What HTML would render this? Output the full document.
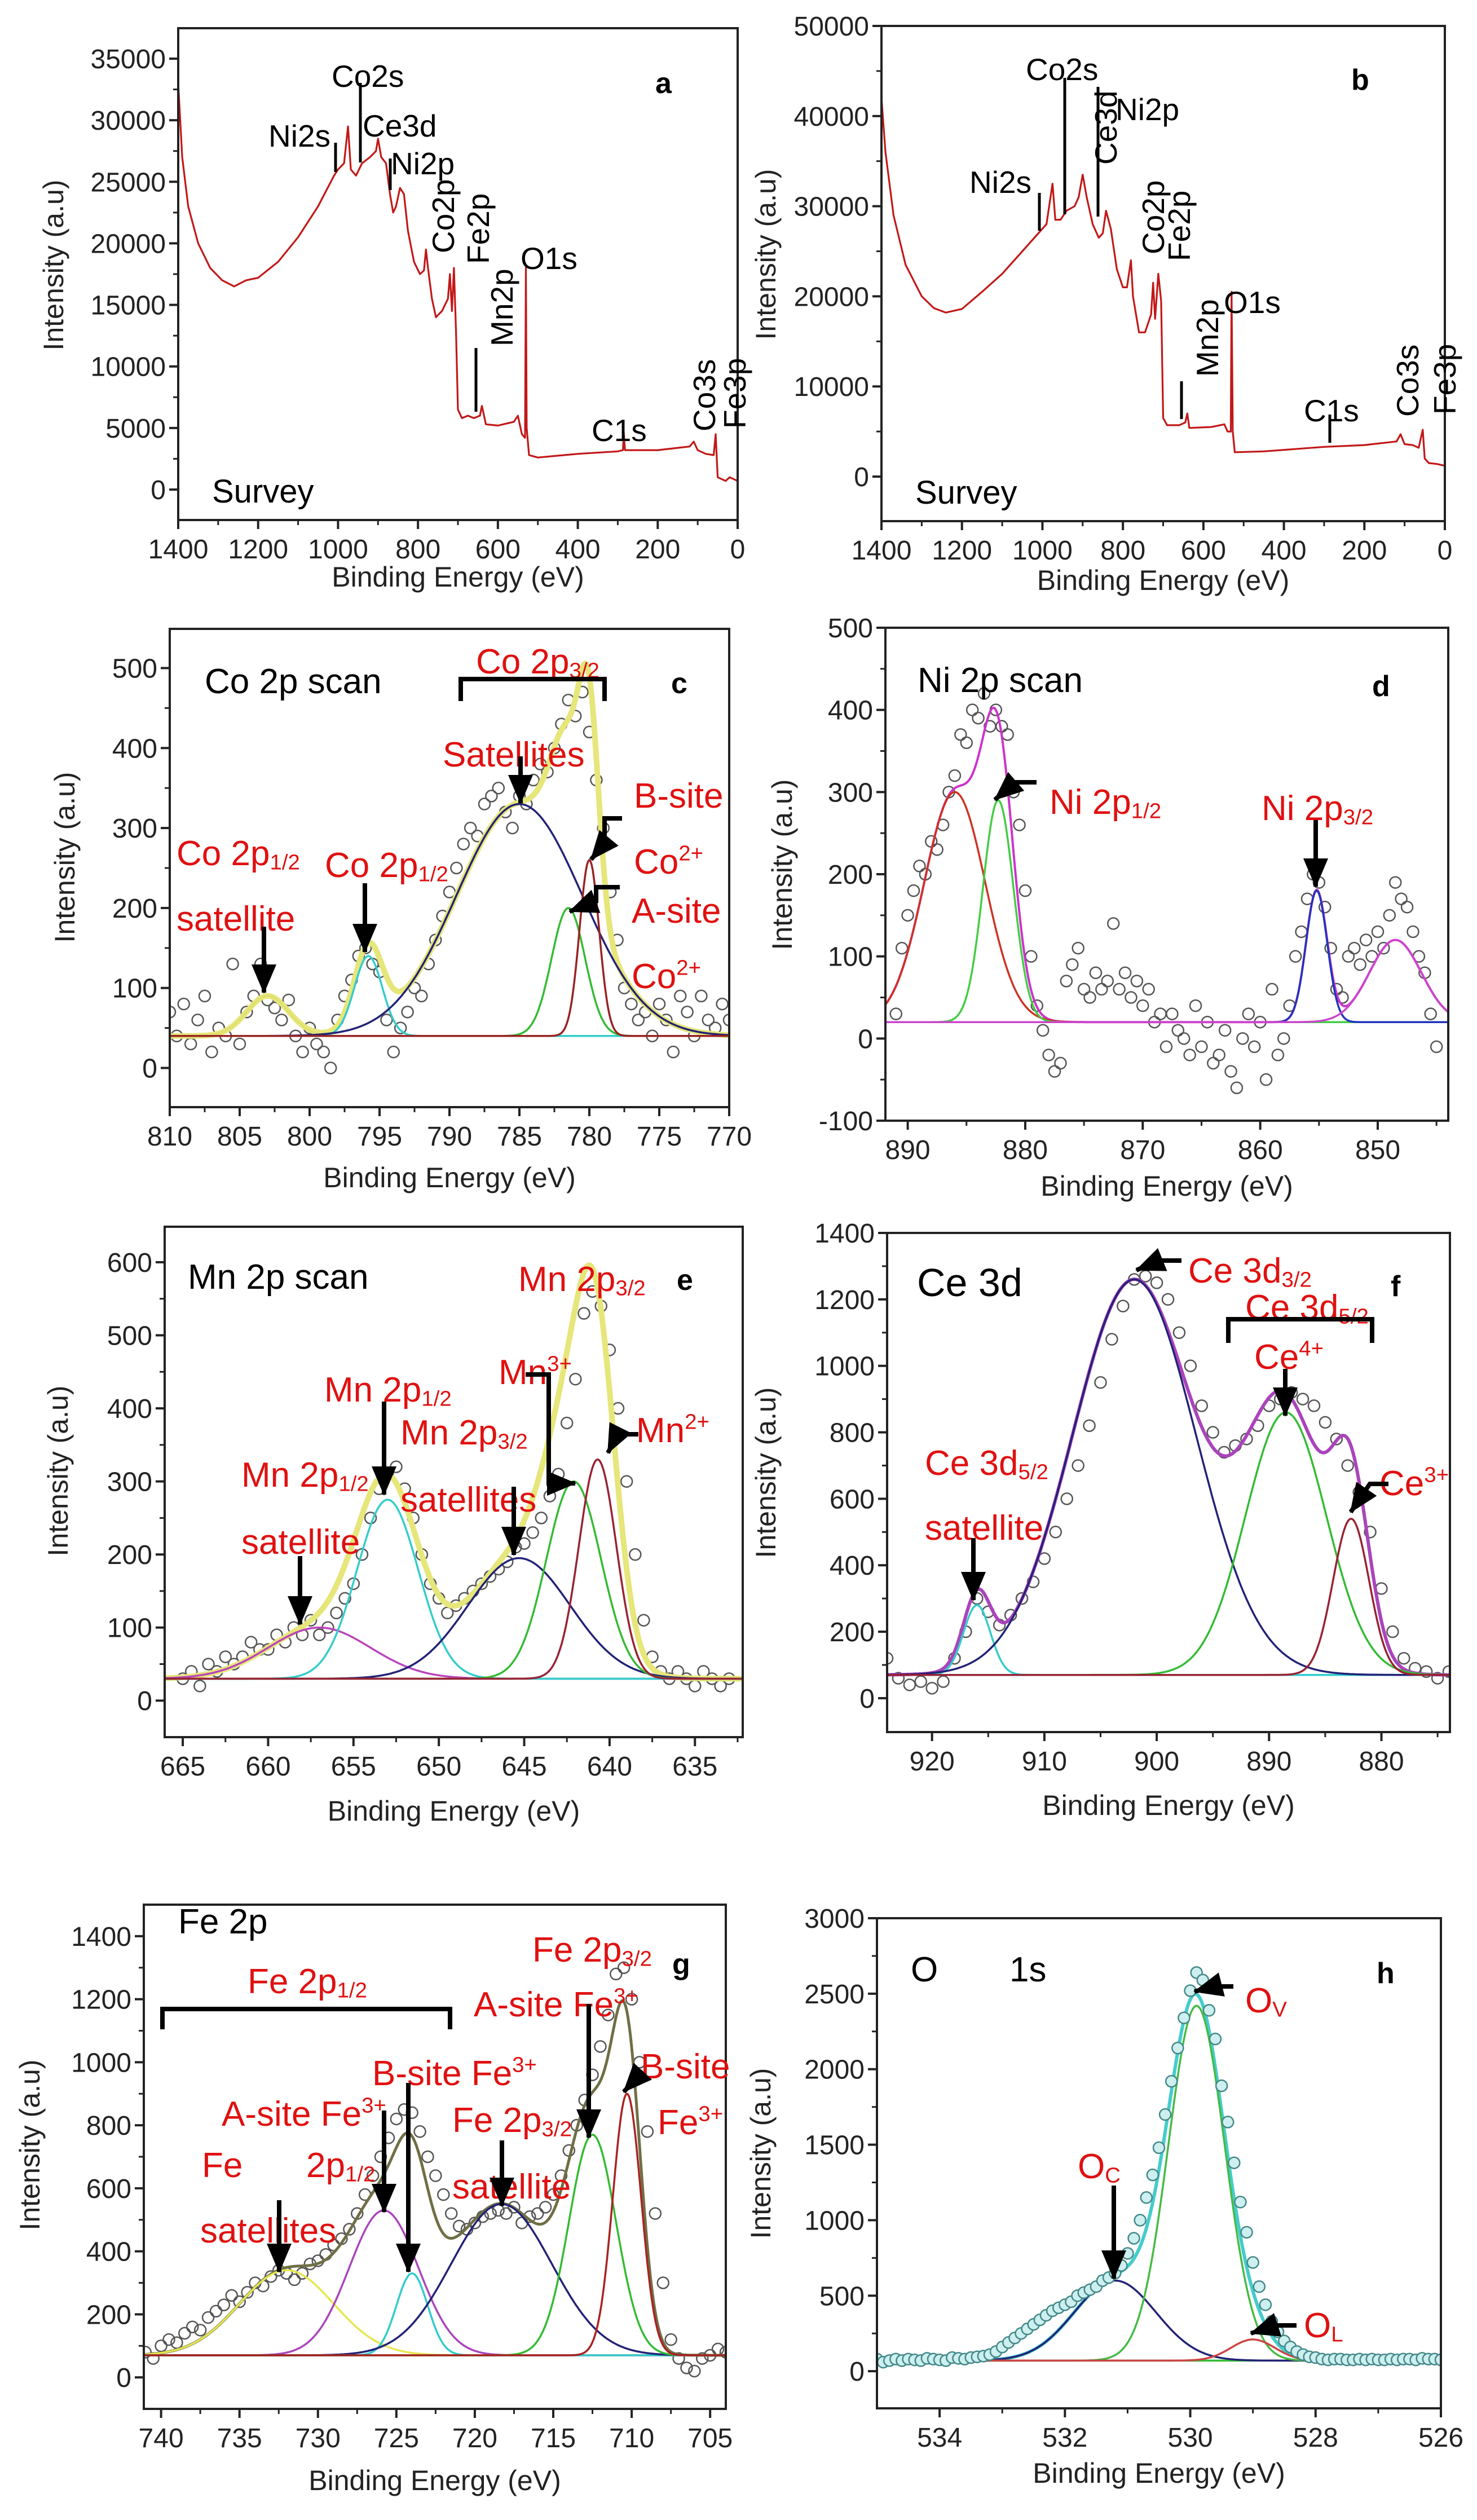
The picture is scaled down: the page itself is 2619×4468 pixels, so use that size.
<!DOCTYPE html>
<html><head><meta charset="utf-8"><title>XPS spectra</title>
<style>
html,body{margin:0;padding:0;background:#fff;}
svg{display:block;font-family:"Liberation Sans",Arial,sans-serif;}
</style></head>
<body>
<svg id="fig" xmlns="http://www.w3.org/2000/svg" width="2619" height="4468" viewBox="0 0 2619 4468">
<defs>
<marker id="ah" markerUnits="userSpaceOnUse" markerWidth="52" markerHeight="44" refX="50" refY="22" orient="auto"><path d="M0,0 L52,22 L0,44 z" fill="#000"/></marker>
</defs>
<rect width="2619" height="4468" fill="#fff"/>
</svg>
<script>
// ---------- DATA ----------
// Panel a survey
const aBE=[1400,1390,1375,1350,1320,1290,1260,1230,1200,1150,1100,1050,1010,1000,985,975,968,955,940,920,905,900,892,880,870,862,855,845,835,825,810,795,785,780,775,765,755,740,725,720,715,710,705,700,690,675,660,645,640,630,600,560,550,540,532,530,528,522,500,400,300,287,285,282,200,120,110,100,80,60,55,50,30,20,0];
const aInt=[33000,27000,23000,20000,18000,17000,16500,17000,17200,18500,20500,23000,25500,26000,26500,29500,26000,25500,26500,27000,27500,28500,27000,26500,24000,22500,23000,24500,24000,21000,18500,17500,17800,19500,18000,15500,14000,14500,15500,17500,14500,18000,13000,6500,5800,6000,5800,6000,6800,5300,5200,5500,6000,4500,4200,18000,5000,2800,2600,2900,3100,3200,4600,3200,3200,3500,3900,3200,2900,2800,4500,1000,700,1000,700];
const aYTicks=[0,5000,10000,15000,20000,25000,30000,35000];
const surveyXTicks=[1400,1200,1000,800,600,400,200,0];
// Panel b survey
const bBE=[1400,1390,1370,1340,1300,1270,1240,1200,1150,1100,1050,1010,990,975,968,955,940,920,910,900,890,875,860,850,842,830,815,800,790,780,775,760,745,730,725,720,712,705,700,690,660,645,640,635,580,548,540,532,530,527,522,450,300,200,120,110,100,80,65,55,50,40,20,0];
const bInt=[42000,36000,29000,23500,20000,18700,18200,18600,20500,22500,25000,27000,28000,32500,28500,28500,29500,30000,31000,33500,31000,28000,26500,27000,29500,27500,23000,21000,21000,24000,20000,16000,16000,18000,21500,17500,22500,19500,6500,5700,5700,6000,7000,5400,5500,5800,5000,5000,20500,5000,2700,2800,3300,3500,3900,4700,3600,3500,3200,5200,2000,1500,1400,1200];
const bYTicks=[0,10000,20000,30000,40000,50000];
// Panel c Co 2p
const cE=[810,809.5,809,808.5,808,807.5,807,806.5,806,805.5,805,804.5,804,803.5,803,802.5,802,801.5,801,800.5,800,799.5,799,798.5,798,797.5,797,796.5,796,795.5,795,794.5,794,793.5,793,792.5,792,791.5,791,790.5,790,789.5,789,788.5,788,787.5,787,786.5,786,785.5,785,784.5,784,783.5,783,782.5,782,781.5,781,780.5,780,779.5,779,778.5,778,777.5,777,776.5,776,775.5,775,774.5,774,773.5,773,772.5,772,771.5,771,770.5,770];
const cI=[70,40,80,30,60,90,20,50,40,130,30,70,90,130,85,75,60,85,40,20,50,30,20,0,60,90,110,140,150,130,120,60,20,50,70,100,90,130,160,190,220,250,280,300,290,330,340,350,320,300,340,330,360,380,370,400,430,460,440,470,420,360,300,220,160,100,80,60,70,40,80,60,20,90,70,40,90,60,50,80,60];
const cCenters=[803,795.8,785,781.5,780];
const cAmps=[50,100,290,160,220];
const cSigmas=[1.5,1.0,4.5,1.2,0.7];
const cBase=[40];
const cYTicks=[0,100,200,300,400,500];
const cXTicks=[810,805,800,795,790,785,780,775,770];
// Panel d Ni 2p
const dE=[891,890.5,890,889.5,889,888.5,888,887.5,887,886.5,886,885.5,885,884.5,884,883.5,883,882.5,882,881.5,881,880.5,880,879.5,879,878.5,878,877.5,877,876.5,876,875.5,875,874.5,874,873.5,873,872.5,872,871.5,871,870.5,870,869.5,869,868.5,868,867.5,867,866.5,866,865.5,865,864.5,864,863.5,863,862.5,862,861.5,861,860.5,860,859.5,859,858.5,858,857.5,857,856.5,856,855.5,855,854.5,854,853.5,853,852.5,852,851.5,851,850.5,850,849.5,849,848.5,848,847.5,847,846.5,846,845.5,845];
const dI=[30,110,150,180,210,200,240,230,260,300,320,370,360,400,390,420,380,400,380,370,300,260,180,100,40,10,-20,-40,-30,70,90,110,60,50,80,60,70,140,60,80,50,70,40,60,20,30,-10,30,10,0,-20,40,-10,20,-30,-20,10,-40,-60,0,30,-10,20,-50,60,-20,0,40,100,130,170,200,190,160,110,60,50,100,110,90,120,100,130,110,150,190,170,160,130,100,80,30,-10];
const dCenters=[886,882.3,855.2,848.5];
const dAmps=[280,270,160,100];
const dSigmas=[2.6,1.3,0.9,2.2];
const dBase=[20];
const dYTicks=[-100,0,100,200,300,400,500];
const dXTicks=[890,880,870,860,850];
// Panel e Mn 2p
const eE=[665,664.5,664,663.5,663,662.5,662,661.5,661,660.5,660,659.5,659,658.5,658,657.5,657,656.5,656,655.5,655,654.5,654,653.5,653,652.5,652,651.5,651,650.5,650,649.5,649,648.5,648,647.5,647,646.5,646,645.5,645,644.5,644,643.5,643,642.5,642,641.5,641,640.5,640,639.5,639,638.5,638,637.5,637,636.5,636,635.5,635,634.5,634,633.5,633];
const eI=[30,40,20,50,40,60,50,60,80,70,70,90,80,100,90,110,90,100,120,140,160,200,250,290,310,320,290,250,200,160,140,120,130,140,150,160,170,180,190,210,215,230,250,280,310,380,440,530,560,540,480,400,300,200,110,60,40,30,40,30,20,40,30,20,30];
const eCenters=[657,653,645.3,642.1,640.7];
const eAmps=[70,245,165,270,300];
const eSigmas=[3.0,1.8,3.0,1.6,1.1];
const eBase=[30];
const eYTicks=[0,100,200,300,400,500,600];
const eXTicks=[665,660,655,650,645,640,635];
// Panel f Ce 3d
const fE=[924,923,922,921,920,919,918,917,916,915,914,913,912,911,910,909,908,907,906,905,904,903,902,901,900,899,898,897,896,895,894,893,892,891,890,889,888,887,886,885,884,883,882,881,880,879,878,877,876,875,874];
const fI=[120,60,40,50,30,50,120,200,300,260,220,250,300,350,420,500,600,700,820,950,1080,1180,1260,1270,1250,1200,1100,1000,880,800,740,760,780,820,880,900,920,900,880,830,780,700,620,500,330,200,120,90,80,60,80];
const fCenters=[916,902,888.5,882.7];
const fAmps=[210,1190,790,470];
const fSigmas=[1.2,5.5,3.6,1.6];
const fBase=[70];
const fYTicks=[0,200,400,600,800,1000,1200,1400];
const fXTicks=[920,910,900,890,880];
// Panel g Fe 2p
const gE=[741,740.5,740,739.5,739,738.5,738,737.5,737,736.5,736,735.5,735,734.5,734,733.5,733,732.5,732,731.5,731,730.5,730,729.5,729,728.5,728,727.5,727,726.5,726,725.5,725,724.5,724,723.5,723,722.5,722,721.5,721,720.5,720,719.5,719,718.5,718,717.5,717,716.5,716,715.5,715,714.5,714,713.5,713,712.5,712,711.5,711,710.5,710,709.5,709,708.5,708,707.5,707,706.5,706,705.5,705,704.5,704];
const gI=[80,60,100,120,110,140,160,150,190,210,230,260,240,270,300,290,320,340,330,310,330,360,370,390,420,440,470,520,580,640,700,760,820,850,840,780,700,640,580,520,480,470,490,510,520,530,520,540,490,510,520,540,580,640,720,800,880,960,1050,1150,1280,1300,1200,1000,780,520,300,120,60,30,20,60,70,90,80];
const gCenters=[732,725.8,724,718.3,712.5,710.3];
const gAmps=[270,460,260,480,700,830];
const gSigmas=[3.0,2.2,1.0,3.2,1.5,0.9];
const gBase=[70];
const gYTicks=[0,200,400,600,800,1000,1200,1400];
const gXTicks=[740,735,730,725,720,715,710,705];
// Panel h O 1s
const hE=[535.0,534.9,534.8,534.7,534.6,534.5,534.4,534.3,534.2,534.1,534.0,533.9,533.8,533.7,533.6,533.5,533.4,533.3,533.2,533.1,533.0,532.9,532.8,532.7,532.6,532.5,532.4,532.3,532.2,532.1,532.0,531.9,531.8,531.7,531.6,531.5,531.4,531.3,531.2,531.1,531.0,530.9,530.8,530.7,530.6,530.5,530.4,530.3,530.2,530.1,530.0,529.9,529.8,529.7,529.6,529.5,529.4,529.3,529.2,529.1,529.0,528.9,528.8,528.7,528.6,528.5,528.4,528.3,528.2,528.1,528.0,527.9,527.8,527.7,527.6,527.5,527.4,527.3,527.2,527.1,527.0,526.9,526.8,526.7,526.6,526.5,526.4,526.3,526.2,526.1,526.0];
const hI=[80,60,70,80,70,80,75,70,85,80,75,70,90,85,80,90,95,100,110,130,160,190,220,250,280,310,340,370,400,420,440,460,500,520,540,560,600,620,650,700,780,880,1000,1150,1300,1480,1700,1920,2140,2340,2520,2640,2590,2390,2200,1890,1650,1380,1120,920,720,560,440,330,260,200,160,130,110,95,90,80,75,80,80,75,75,80,75,80,75,75,80,75,80,80,75,85,80,80,75];
const hCenters=[531.2,529.9,529.0];
const hAmps=[530,2350,140];
const hSigmas=[0.65,0.45,0.35];
const hBase=[70];
const hYTicks=[0,500,1000,1500,2000,2500,3000];
const hXTicks=[534,532,530,528,526];

// ---------- DRAWING ----------
const svg=document.getElementById('fig');
const NS='http://www.w3.org/2000/svg';
function mk(tag,attrs,parent){const e=document.createElementNS(NS,tag);for(const k in attrs)e.setAttribute(k,attrs[k]);(parent||svg).appendChild(e);return e;}
function gauss(x,c,a,s){return a*Math.exp(-(x-c)*(x-c)/(2*s*s));}

function makePanel(p){
  const g=mk('g',{});
  
  
  p.g=g;
  p.sx=v=>p.L+(p.x0-v)/(p.x0-p.x1)*(p.R-p.L);
  p.sy=v=>p.B-(v-p.y0)/(p.y1-p.y0)*(p.B-p.T);
  const cp=mk('clipPath',{id:'clip-'+p.id},g);
  mk('rect',{x:p.L,y:p.T,width:p.R-p.L,height:p.B-p.T},cp);
  p.plot=mk('g',{'clip-path':'url(#clip-'+p.id+')'},g);
  
  
  return p;
}
function drawAxes(p,yt,ymin,xt,xmin){
  const g=p.g;
  const fr=mk('rect',{x:p.L,y:p.T,width:p.R-p.L,height:p.B-p.T,fill:'none',stroke:'#222','stroke-width':4},g);
  
  
  const ya=mk('g',{},g);
  
  
  yt.forEach(v=>{const y=p.sy(v);
    mk('line',{x1:p.L-16,x2:p.L,y1:y,y2:y,stroke:'#222','stroke-width':4},ya);
    const t=mk('text',{x:p.L-22,y:y+17,'font-size':48,'text-anchor':'end',fill:'#222'},ya);
    t.textContent=v;
    
    
    const m=v+ymin; if(m<p.y1){const ym=p.sy(m);mk('line',{x1:p.L-9,x2:p.L,y1:ym,y2:ym,stroke:'#222','stroke-width':3},ya);}
  });
  const xa=mk('g',{},g);
  
  
  xt.forEach(v=>{const x=p.sx(v);
    mk('line',{x1:x,x2:x,y1:p.B,y2:p.B+16,stroke:'#222','stroke-width':4},xa);
    const t=mk('text',{x:x,y:p.B+68,'font-size':48,'text-anchor':'middle',fill:'#222'},xa);
    t.textContent=v;
    
    
    const m=v-xmin; const lo=Math.min(p.x0,p.x1),hi=Math.max(p.x0,p.x1);
    if(m>lo&&m<hi){const xm=p.sx(m);mk('line',{x1:xm,x2:xm,y1:p.B,y2:p.B+9,stroke:'#222','stroke-width':3},xa);}
  });
  const xt2=mk('text',{x:(p.L+p.R)/2,y:p.xtY,'font-size':50,'text-anchor':'middle',fill:'#222'},g);
  xt2.textContent='Binding Energy (eV)';
  
  
  const yt2=mk('text',{x:0,y:0,'font-size':50,'text-anchor':'middle',fill:'#222',transform:'translate('+p.ytX+','+p.ytY+') rotate(-90)'},g);
  yt2.textContent='Intensity (a.u)';
  
  
}
function linePath(p,xs,ys){let d='';xs.forEach((x,i)=>{d+=(i?'L':'M')+p.sx(x).toFixed(1)+','+p.sy(ys[i]).toFixed(1);});return d;}
function drawSurvey(p,be,it){
  const l=mk('path',{d:linePath(p,be,it),fill:'none',stroke:'#c21818','stroke-width':3.2,'stroke-linejoin':'round'},p.plot);
  
  
}
function drawScatter(p,E,I,color,fill){
  const sg=mk('g',{},p.plot);
  
  
  E.forEach((e,i)=>{
    const c=mk('circle',{cx:p.sx(e),cy:p.sy(I[i]),r:10,fill:fill||'none',stroke:color,'stroke-width':2.5},sg);
    
    
  });
}
function sampleX(p){const xs=[];const n=500;for(let i=0;i<=n;i++)xs.push(p.x0+(p.x1-p.x0)*i/n);return xs;}
function drawFit(p,C,A,S,base,colors,envColor,envWidth,names){
  const xs=sampleX(p);
  const env=xs.map(x=>base[0]+C.reduce((s,c,i)=>s+gauss(x,c,A[i],S[i]),0));
  const ep=mk('path',{d:linePath(p,xs,env),fill:'none',stroke:envColor,'stroke-width':envWidth,'stroke-linejoin':'round'},p.plot);
  
  
  const bl=mk('line',{x1:p.L,x2:p.R,y1:p.sy(base[0]),y2:p.sy(base[0]),stroke:colors.base,'stroke-width':3.5},p.plot);
  
  
  C.forEach((c,i)=>{
    const ys=xs.map(x=>base[0]+gauss(x,c,A[i],S[i]));
    const cp=mk('path',{d:linePath(p,xs,ys),fill:'none',stroke:colors.comp[i],'stroke-width':3.5},p.plot);
    
    
  });
}
function txt(p,x,y,parts,opts){
  const size=opts.size||62;
  const t=mk('text',{x:x,y:y,'font-size':size,fill:opts.color||'#e01010','font-weight':opts.bold?'bold':'normal'},p.g);
  if(opts.anchor)t.setAttribute('text-anchor',opts.anchor);
  if(opts.rot)t.setAttribute('transform','rotate(-90 '+x+' '+y+')');
  let shift=0;
  parts.forEach(pt=>{
    const s=mk('tspan',{},t);s.textContent=pt[0];
    let target=0, fs=size;
    if(pt[1]==='sub'){target=size*0.12;fs=size*0.62;}
    if(pt[1]==='sup'){target=-size*0.38;fs=size*0.62;}
    s.setAttribute('font-size',fs);
    s.setAttribute('dy',(target-shift).toFixed(1));
    shift=target;
  });
  
  
  return t;
}
function arrow(p,pts,name){
  const d='M'+pts.map(q=>q[0]+','+q[1]).join(' L');
  const a=mk('path',{d:d,fill:'none',stroke:'#000','stroke-width':8,'marker-end':'url(#ah)'},p.g);
  
  
}
function bar(p,pts,name,w){
  const d='M'+pts.map(q=>q[0]+','+q[1]).join(' L');
  const a=mk('path',{d:d,fill:'none',stroke:'#000','stroke-width':w||8},p.g);
  
  
}

// ---- Panel a
const pa=makePanel({id:'a',L:316,R:1308,T:50,B:922,x0:1400,x1:0,y0:-2474,y1:37474,xtY:1040,ytX:112,ytY:470});
drawSurvey(pa,aBE,aInt);
drawAxes(pa,aYTicks,2500,surveyXTicks,100);
const K={color:'#000',size:55};
txt(pa,476,260,[['Ni2s','n']],Object.assign({name:'label-ni2s'},K)); bar(pa,[[595,253],[595,305]],'marker-ni2s',5);
txt(pa,588,154,[['Co2s','n']],Object.assign({name:'label-co2s'},K)); bar(pa,[[639,147],[639,288]],'marker-co2s',5);
txt(pa,643,242,[['Ce3d','n']],Object.assign({name:'label-ce3d'},K));
txt(pa,693,309,[['Ni2p','n']],Object.assign({name:'label-ni2p'},K)); bar(pa,[[692,281],[692,337]],'marker-ni2p',5);
txt(pa,805,449,[['Co2p','n']],Object.assign({name:'label-co2p',rot:true},K));
txt(pa,867,468,[['Fe2p','n']],Object.assign({name:'label-fe2p',rot:true},K));
txt(pa,909,614,[['Mn2p','n']],Object.assign({name:'label-mn2p',rot:true},K)); bar(pa,[[844,617],[844,730]],'marker-mn2p',5);
txt(pa,923,477,[['O1s','n']],Object.assign({name:'label-o1s'},K));
txt(pa,1049,782,[['C1s','n']],Object.assign({name:'label-c1s'},K));
txt(pa,1268,765,[['Co3s','n']],Object.assign({name:'label-co3s',rot:true},K));
txt(pa,1322,760,[['Fe3p','n']],Object.assign({name:'label-fe3p',rot:true},K));
txt(pa,1162,165,[['a','n']],{name:'panel-letter-a',color:'#000',size:52,bold:true});
txt(pa,376,891,[['Survey','n']],{name:'survey-label',color:'#000',size:58});

// ---- Panel b
const pb=makePanel({id:'b',L:1563,R:2562,T:46,B:924,x0:1400,x1:0,y0:-4944,y1:50000,xtY:1046,ytX:1375,ytY:451});
drawSurvey(pb,bBE,bInt);
drawAxes(pb,bYTicks,5000,surveyXTicks,100);
txt(pb,1819,142,[['Co2s','n']],Object.assign({name:'label-co2s'},K)); bar(pb,[[1888,138],[1888,380]],'marker-co2s',5);
txt(pb,1719,342,[['Ni2s','n']],Object.assign({name:'label-ni2s'},K)); bar(pb,[[1843,342],[1843,409]],'marker-ni2s',5);
txt(pb,1980,292,[['Ce3d','n']],Object.assign({name:'label-ce3d',rot:true},K)); bar(pb,[[1947,154],[1947,384]],'marker-ce3d',5);
txt(pb,1978,213,[['Ni2p','n']],Object.assign({name:'label-ni2p'},K));
txt(pb,2064,451,[['Co2p','n']],Object.assign({name:'label-co2p',rot:true},K));
txt(pb,2110,463,[['Fe2p','n']],Object.assign({name:'label-fe2p',rot:true},K));
txt(pb,2160,668,[['Mn2p','n']],Object.assign({name:'label-mn2p',rot:true},K)); bar(pb,[[2095,676],[2095,743]],'marker-mn2p',5);
txt(pb,2170,555,[['O1s','n']],Object.assign({name:'label-o1s'},K));
txt(pb,2312,747,[['C1s','n']],Object.assign({name:'label-c1s'},K)); bar(pb,[[2358,735],[2358,785]],'marker-c1s',5);
txt(pb,2515,739,[['Co3s','n']],Object.assign({name:'label-co3s',rot:true},K));
txt(pb,2581,735,[['Fe3p','n']],Object.assign({name:'label-fe3p',rot:true},K));
txt(pb,2396,159,[['b','n']],{name:'panel-letter-b',color:'#000',size:52,bold:true});
txt(pb,1623,893,[['Survey','n']],{name:'survey-label',color:'#000',size:58});

// ---- Panel c
const pc=makePanel({id:'c',L:301,R:1293,T:1115,B:1963,x0:810,x1:770,y0:-49,y1:549,xtY:2105,ytX:132,ytY:1520});
drawScatter(pc,cE,cI,'#555');
drawFit(pc,cCenters,cAmps,cSigmas,cBase,{base:'#dd33dd',comp:['#e0e070','#33cccc','#222277','#33bb33','#992222']},'#e6e67a',10,['satellite-803','co2p12-peak','satellite-785','a-site-co2','b-site-co2']);
drawAxes(pc,cYTicks,50,cXTicks,2.5);
txt(pc,363,1229,[['Co 2p scan','n']],{name:'panel-title-c',color:'#000',size:62});
txt(pc,1190,1229,[['c','n']],{name:'panel-letter-c',color:'#000',size:52,bold:true});
txt(pc,844,1194,[['Co 2p','n'],['3/2','sub']],{name:'label-co2p32'});
bar(pc,[[817,1243],[817,1204],[1072,1204],[1072,1243]],'bracket-co2p32',8);
txt(pc,785,1359,[['Satellites','n']],{name:'label-satellites'});
arrow(pc,[[923,1341],[923,1424]],'arrow-satellites');
txt(pc,1124,1432,[['B-site','n']],{name:'label-b-site'});
arrow(pc,[[1103,1451],[1072,1451],[1072,1495],[1048,1524]],'arrow-b-site');
txt(pc,1124,1549,[['Co','n'],['2+','sup']],{name:'label-co2-b'});
txt(pc,1120,1636,[['A-site','n']],{name:'label-a-site'});
arrow(pc,[[1099,1573],[1057,1573],[1057,1598],[1010,1616]],'arrow-a-site');
txt(pc,1120,1752,[['Co','n'],['2+','sup']],{name:'label-co2-a'});
txt(pc,313,1534,[['Co 2p','n'],['1/2','sub']],{name:'label-co2p12-sat'});
txt(pc,313,1650,[['satellite','n']],{name:'label-satellite'});
arrow(pc,[[468,1643],[468,1760]],'arrow-satellite');
txt(pc,576,1555,[['Co 2p','n'],['1/2','sub']],{name:'label-co2p12'});
arrow(pc,[[647,1566],[647,1688]],'arrow-co2p12');

// ---- Panel d
const pd=makePanel({id:'d',L:1570,R:2568,T:1113,B:1987,x0:891.9,x1:844,y0:-100,y1:500,xtY:2120,ytX:1404,ytY:1533});
drawScatter(pd,dE,dI,'#555');
drawFit(pd,dCenters,dAmps,dSigmas,dBase,{base:'#44dddd',comp:['#cc3322','#44cc44','#2233bb','#cc44cc']},'#cc33cc',4,['ni-satellite-886','ni2p12-peak','ni2p32-peak','ni-satellite-848']);
drawAxes(pd,dYTicks,50,dXTicks,5);
txt(pd,1627,1227,[['Ni 2p scan','n']],{name:'panel-title-d',color:'#000',size:62});
txt(pd,2433,1234,[['d','n']],{name:'panel-letter-d',color:'#000',size:52,bold:true});
txt(pd,1861,1443,[['Ni 2p','n'],['1/2','sub']],{name:'label-ni2p12'});
arrow(pd,[[1838,1387],[1800,1387],[1764,1418]],'arrow-ni2p12');
txt(pd,2237,1454,[['Ni 2p','n'],['3/2','sub']],{name:'label-ni2p32'});
arrow(pd,[[2333,1454],[2333,1572]],'arrow-ni2p32');

// ---- Panel e
const pe=makePanel({id:'e',L:292,R:1317,T:2175,B:3080,x0:666.06,x1:632.2,y0:-50,y1:648.6,xtY:3228,ytX:120,ytY:2608});
drawScatter(pe,eE,eI,'#555');
drawFit(pe,eCenters,eAmps,eSigmas,eBase,{base:'#44dddd',comp:['#bb44bb','#33cccc','#222277','#33bb33','#992233']},'#e6e67a',10,['mn-satellite-657','mn2p12-peak','mn-satellite-645','mn3-peak','mn2-peak']);
drawAxes(pe,eYTicks,50,eXTicks,2.5);
txt(pe,333,2285,[['Mn 2p scan','n']],{name:'panel-title-e',color:'#000',size:62});
txt(pe,1200,2287,[['e','n']],{name:'panel-letter-e',color:'#000',size:52,bold:true});
txt(pe,919,2289,[['Mn 2p','n'],['3/2','sub']],{name:'label-mn2p32'});
txt(pe,884,2454,[['Mn','n'],['3+','sup']],{name:'label-mn3'});
arrow(pe,[[932,2437],[973,2437],[973,2630],[1020,2630]],'arrow-mn3');
txt(pe,1128,2557,[['Mn','n'],['2+','sup']],{name:'label-mn2'});
arrow(pe,[[1132,2543],[1086,2543],[1086,2560],[1078,2576]],'arrow-mn2');
txt(pe,575,2485,[['Mn 2p','n'],['1/2','sub']],{name:'label-mn2p12'});
arrow(pe,[[681,2485],[681,2650]],'arrow-mn2p12');
txt(pe,710,2561,[['Mn   2p','n'],['3/2','sub']],{name:'label-mn2p32-sat'});
txt(pe,710,2680,[['satellites','n']],{name:'label-satellites'});
arrow(pe,[[911,2636],[911,2757]],'arrow-satellites');
txt(pe,428,2636,[['Mn   2p','n'],['1/2','sub']],{name:'label-mn2p12-sat'});
txt(pe,428,2755,[['satellite','n']],{name:'label-satellite'});
arrow(pe,[[532,2759],[532,2880]],'arrow-satellite');

// ---- Panel f
const pf=makePanel({id:'f',L:1573,R:2571,T:2186,B:3071,x0:924,x1:873.9,y0:-102,y1:1400,xtY:3218,ytX:1375,ytY:2611});
drawScatter(pf,fE,fI,'#555');
drawFit(pf,fCenters,fAmps,fSigmas,fBase,{base:'#44dddd',comp:['#33cccc','#222277','#33bb33','#992233']},'#aa44bb',6,['ce-satellite-peak','ce3d32-peak','ce4-peak','ce3-peak']);
drawAxes(pf,fYTicks,100,fXTicks,5);
txt(pf,1626,2298,[['Ce   3d','n']],{name:'panel-title-f',color:'#000',size:70});
txt(pf,2466,2298,[['f','n']],{name:'panel-letter-f',color:'#000',size:52,bold:true});
txt(pf,2107,2274,[['Ce 3d','n'],['3/2','sub']],{name:'label-ce3d32'});
arrow(pf,[[2095,2235],[2057,2235],[2015,2252]],'arrow-ce3d32');
txt(pf,2208,2339,[['Ce 3d','n'],['5/2','sub']],{name:'label-ce3d52'});
bar(pf,[[2178,2381],[2178,2339],[2433,2339],[2433,2381]],'bracket-ce3d52',8);
txt(pf,2224,2427,[['Ce','n'],['4+','sup']],{name:'label-ce4'});
arrow(pf,[[2279,2427],[2279,2510]],'arrow-ce4');
txt(pf,2446,2651,[['Ce','n'],['3+','sup']],{name:'label-ce3'});
arrow(pf,[[2462,2631],[2429,2631],[2395,2681]],'arrow-ce3');
txt(pf,1640,2615,[['Ce    3d','n'],['5/2','sub']],{name:'label-ce3d-sat'});
txt(pf,1640,2730,[['satellite','n']],{name:'label-satellite'});
arrow(pf,[[1726,2727],[1726,2837]],'arrow-satellite');

// ---- Panel g
const pg=makePanel({id:'g',L:255,R:1287,T:3377,B:4271,x0:741.1,x1:704,y0:-100,y1:1500,xtY:4415,ytX:70,ytY:3803});
drawScatter(pg,gE,gI,'#555');
drawFit(pg,gCenters,gAmps,gSigmas,gBase,{base:'#dddd55',comp:['#e6e650','#aa44bb','#33cccc','#222277','#33bb33','#aa2222']},'#6f6f45',5,['fe-satellite-732','a-site-fe2p12','b-site-fe2p12','fe-satellite-718','a-site-fe2p32','b-site-fe2p32']);
drawAxes(pg,gYTicks,100,gXTicks,2.5);
txt(pg,316,3428,[['Fe 2p','n']],{name:'panel-title-g',color:'#000',size:62});
txt(pg,1192,3500,[['g','n']],{name:'panel-letter-g',color:'#000',size:52,bold:true});
txt(pg,439,3534,[['Fe 2p','n'],['1/2','sub']],{name:'label-fe2p12'});
bar(pg,[[288,3598],[288,3562],[798,3562],[798,3598]],'bracket-fe2p12',8);
txt(pg,944,3478,[['Fe 2p','n'],['3/2','sub']],{name:'label-fe2p32'});
txt(pg,840,3575,[['A-site Fe','n'],['3+','sup']],{name:'label-a-site-fe3-32'});
arrow(pg,[[1044,3553],[1044,3790]],'arrow-a-site-32');
txt(pg,1136,3685,[['B-site','n']],{name:'label-b-site-32'});
arrow(pg,[[1140,3672],[1106,3709]],'arrow-b-site-32');
txt(pg,1166,3784,[['Fe','n'],['3+','sup']],{name:'label-fe3-b'});
txt(pg,660,3697,[['B-site Fe','n'],['3+','sup']],{name:'label-b-site-fe3-12'});
arrow(pg,[[724,3693],[724,4028]],'arrow-b-site-12');
txt(pg,393,3769,[['A-site Fe','n'],['3+','sup']],{name:'label-a-site-fe3-12'});
arrow(pg,[[681,3742],[681,3922]],'arrow-a-site-12');
txt(pg,802,3780,[['Fe  2p','n'],['3/2','sub']],{name:'label-fe2p32-sat'});
txt(pg,802,3898,[['satellite','n']],{name:'label-satellite'});
arrow(pg,[[890,3795],[890,3911]],'arrow-satellite');
txt(pg,358,3860,[['Fe','n']],{name:'label-fe'});
txt(pg,543,3860,[['2p','n'],['1/2','sub']],{name:'label-2p12'});
txt(pg,355,3976,[['satellites','n']],{name:'label-satellites'});
arrow(pg,[[495,3901],[495,4028]],'arrow-satellites');

// ---- Panel h
const ph=makePanel({id:'h',L:1555,R:2555,T:3401,B:4270,x0:535,x1:526,y0:-246,y1:3000,xtY:4402,ytX:1366,ytY:3818});
drawFit(ph,hCenters,hAmps,hSigmas,hBase,{base:'#33bb33',comp:['#222277','#44bb44','#cc4444']},'#44cccc',6,['oc-peak','ov-peak','ol-peak']);
drawScatter(ph,hE,hI,'#448888','#cdeff0');
drawAxes(ph,hYTicks,250,hXTicks,1);
txt(ph,1615,3513,[['O','n']],{name:'panel-title-h-o',color:'#000',size:62});
txt(ph,1790,3513,[['1s','n']],{name:'panel-title-h-1s',color:'#000',size:62});
txt(ph,2441,3516,[['h','n']],{name:'panel-letter-h',color:'#000',size:52,bold:true});
txt(ph,2208,3568,[['O','n'],['V','sub']],{name:'label-ov'});
arrow(ph,[[2187,3522],[2153,3522],[2118,3531]],'arrow-ov');
txt(ph,1911,3862,[['O','n'],['C','sub']],{name:'label-oc'});
arrow(ph,[[1975,3875],[1975,4040]],'arrow-oc');
txt(ph,2312,4144,[['O','n'],['L','sub']],{name:'label-ol'});
arrow(ph,[[2299,4123],[2262,4123],[2218,4137]],'arrow-ol');
</script>
</body></html>
